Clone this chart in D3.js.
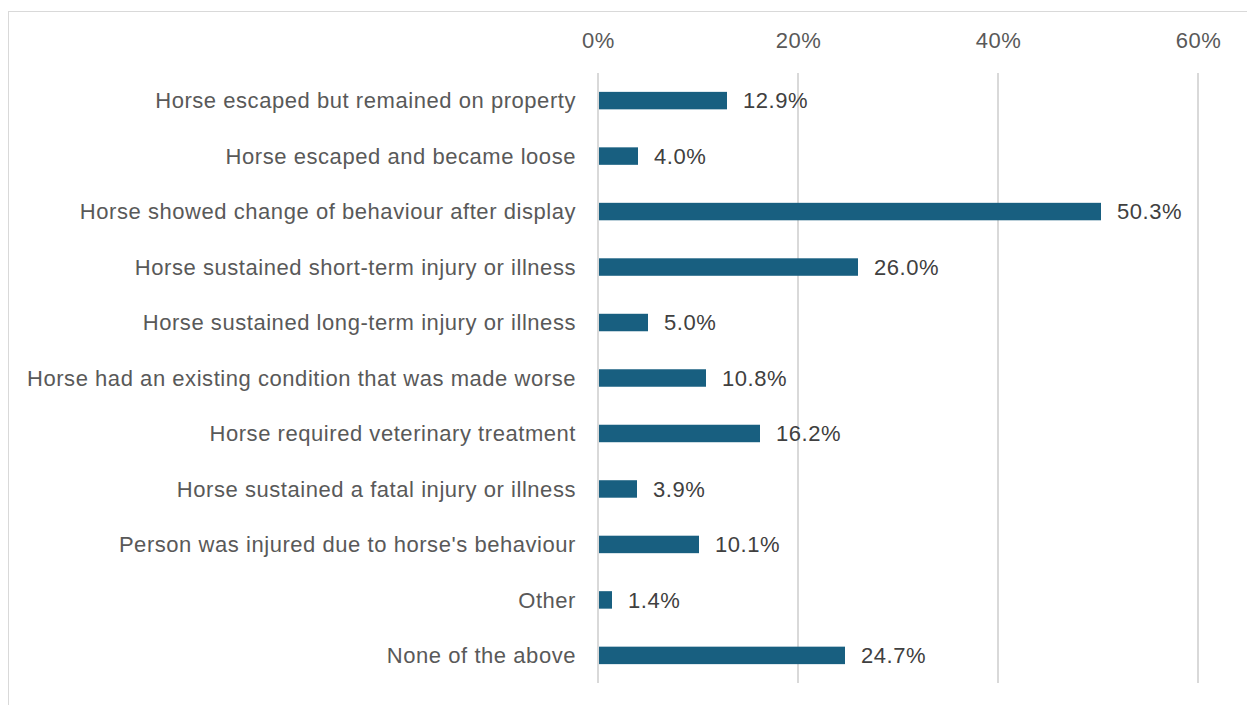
<!DOCTYPE html>
<html>
<head>
<meta charset="utf-8">
<script src="https://cdn.jsdelivr.net/npm/d3@7"></script>
<style>
  body { margin: 0; background: #fff; }
  svg { display: block; font-family: "Liberation Sans", Arial, sans-serif; }
  text { letter-spacing: 0.55px; }
</style>
</head>
<body>
<svg id="chart" width="1247" height="705"></svg>
<script>
// categories and values (percent)
var categories = [
  "Horse escaped but remained on property",
  "Horse escaped and became loose",
  "Horse showed change of behaviour after display",
  "Horse sustained short-term injury or illness",
  "Horse sustained long-term injury or illness",
  "Horse had an existing condition that was made worse",
  "Horse required veterinary treatment",
  "Horse sustained a fatal injury or illness",
  "Person was injured due to horse's behaviour",
  "Other",
  "None of the above"
];
var values = [12.9, 4.0, 50.3, 26.0, 5.0, 10.8, 16.2, 3.9, 10.1, 1.4, 24.7];
var tickValues = [0, 20, 40, 60];

var svg = d3.select("#chart");

// chart frame (cropped at right and bottom)
svg.append("rect")
    .attr("x", 8.5)
    .attr("y", 11.5)
    .attr("width", 1260)
    .attr("height", 720)
    .attr("fill", "none")
    .attr("stroke", "#d9d9d9");

var x = d3.scaleLinear()
    .domain([0, 60])
    .range([598, 1198]);

var y = d3.scaleBand()
    .domain(categories)
    .range([73, 683])
    .paddingInner(0.685)
    .paddingOuter(0.34);

// gridlines
svg.append("g")
    .attr("class", "grid")
  .selectAll("line")
  .data(tickValues)
  .enter().append("line")
    .attr("x1", function(d) { return x(d); })
    .attr("x2", function(d) { return x(d); })
    .attr("y1", 73)
    .attr("y2", 683)
    .attr("stroke", "#d9d9d9")
    .attr("stroke-width", 2);

// top axis
var axis = svg.append("g")
    .attr("transform", "translate(0,48)")
    .call(d3.axisTop(x)
      .tickValues(tickValues)
      .tickSize(0)
      .tickPadding(0)
      .tickFormat(function(d) { return d + "%"; }));
axis.select(".domain").remove();
axis.selectAll("text")
    .attr("fill", "#595959")
    .style("font-size", "22px")
    .style("font-family", "Liberation Sans, Arial, sans-serif");

// bars
svg.append("g")
  .selectAll("rect")
  .data(values)
  .enter().append("rect")
    .attr("x", x(0) + 1)
    .attr("y", function(d, i) { return y(categories[i]); })
    .attr("width", function(d) { return x(d) - x(0) - 1; })
    .attr("height", y.bandwidth())
    .attr("fill", "#185f80");

// category labels
svg.append("g")
  .selectAll("text")
  .data(categories)
  .enter().append("text")
    .attr("x", 576)
    .attr("y", function(d) { return y(d) + y.bandwidth() / 2; })
    .attr("dy", "0.35em")
    .attr("text-anchor", "end")
    .attr("fill", "#595959")
    .style("font-size", "22px")
    .text(function(d) { return d; });

// value labels
svg.append("g")
  .selectAll("text")
  .data(values)
  .enter().append("text")
    .attr("x", function(d) { return x(d) + 16; })
    .attr("y", function(d, i) { return y(categories[i]) + y.bandwidth() / 2; })
    .attr("dy", "0.35em")
    .attr("fill", "#404040")
    .style("font-size", "22px")
    .text(function(d) { return d.toFixed(1) + "%"; });
</script>
</body>
</html>
